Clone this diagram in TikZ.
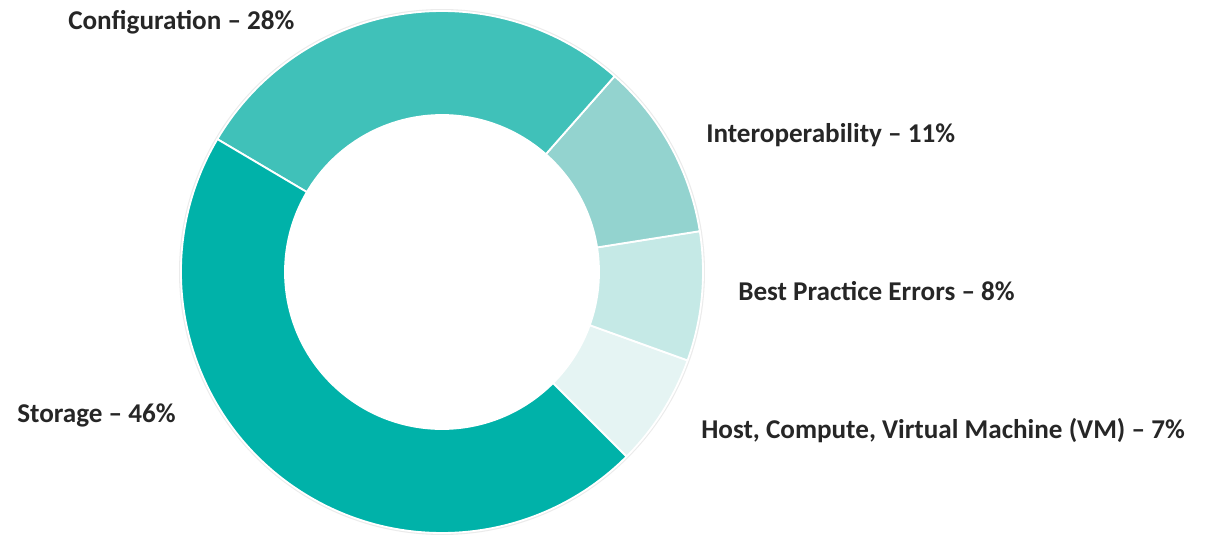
\documentclass[tikz,border=0pt]{standalone}
\usepackage{fontspec}
\setmainfont{Carlito}
\definecolor{storc}{HTML}{00B2A9}
\definecolor{confc}{HTML}{40C1B9}
\definecolor{interc}{HTML}{93D3CF}
\definecolor{bestc}{HTML}{C5E9E6}
\definecolor{hostc}{HTML}{E5F4F3}
\definecolor{labgray}{HTML}{262626}
\begin{document}
\begin{tikzpicture}[x=0.025cm,y=0.025cm,
    seg/.style={draw=white,line width=1.3pt,line join=round},
    lab/.style={anchor=base west,inner sep=0pt,text=labgray,
      font=\bfseries\fontsize{19.3}{22}\selectfont}]
  \useasboundingbox (0,0) rectangle (1215,539);
  % ring, counterclockwise from -45 degrees
  \begin{scope}[shift={(442,267)}]
    \draw[black!8,line width=1.4pt] (0,0) circle[radius=262];
    \foreach \a/\b/\c in {-45/-19.8/hostc,-19.8/9/bestc,9/48.6/interc,
        48.6/149.4/confc,149.4/315/storc}
      \filldraw[seg,fill=\c] (\a:261) arc[start angle=\a,end angle=\b,radius=261]
        -- (\b:157) arc[start angle=\b,end angle=\a,radius=157] -- cycle;
  \end{scope}
  \node[lab] (config) at (68,509) {Configuration – 28\%};
  \node[lab] (interop) at (706,396) {Interoperability – 11\%};
  \node[lab] (best) at (738,238) {Best Practice Errors – 8\%};
  \node[lab] (host) at (701,100) {Host, Compute, Virtual Machine (VM) – 7\%};
  \node[lab] (storage) at (17,116) {Storage – 46\%};
\end{tikzpicture}
\end{document}
